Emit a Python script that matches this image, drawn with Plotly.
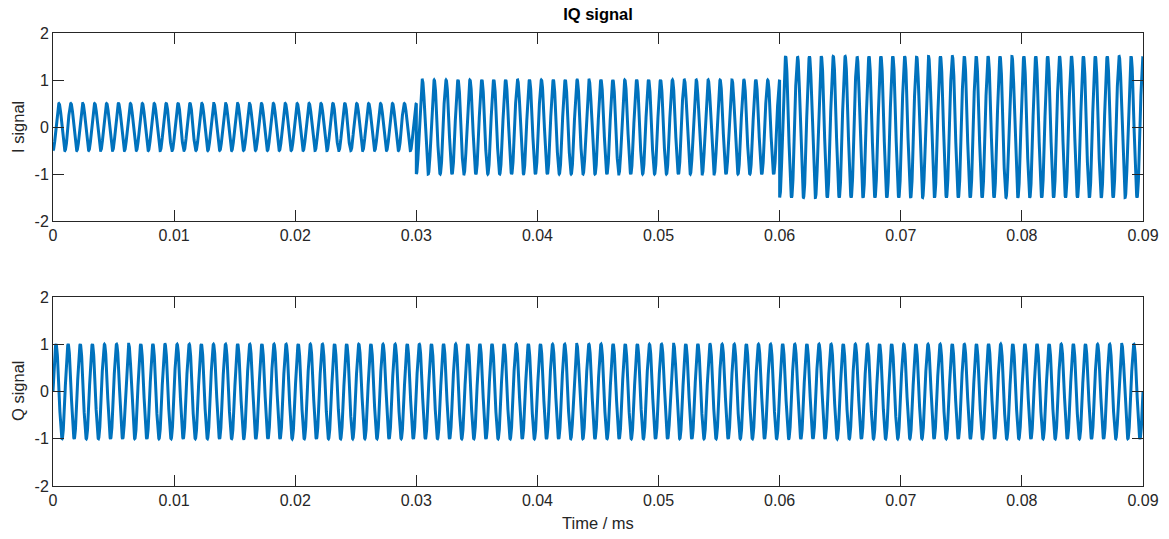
import numpy as np
import plotly.graph_objects as go

# ---- data ----
segment_starts = [0.0, 0.03, 0.06]          # ms
segment_ends = [0.03, 0.06, 0.09]           # ms
i_amplitudes = [0.5, 1.0, 1.5]              # I amplitude per segment
i_cycles_per_segment = [30.5, 30.5, 30.5]   # carrier cycles in each I segment
q_amplitude = 1.0
q_frequency = 1000.0                        # cycles per ms
samples_per_segment = 4001

x_tick_vals = [0, 0.01, 0.02, 0.03, 0.04, 0.05, 0.06, 0.07, 0.08, 0.09]
x_tick_text = ["0", "0.01", "0.02", "0.03", "0.04", "0.05", "0.06", "0.07", "0.08", "0.09"]
y_tick_vals = [-2, -1, 0, 1, 2]
y_tick_text = ["-2", "-1", "0", "1", "2"]

# ---- build waveforms ----
t_i, v_i = [], []
for s, e, a, c in zip(segment_starts, segment_ends, i_amplitudes, i_cycles_per_segment):
    t = np.linspace(s, e, samples_per_segment)
    f = c / (e - s)
    t_i.append(t)
    v_i.append(-a * np.cos(2 * np.pi * f * (t - s)))
t_i = np.concatenate(t_i)
v_i = np.concatenate(v_i)

t_q = np.linspace(segment_starts[0], segment_ends[-1], 3 * samples_per_segment)
v_q = q_amplitude * np.sin(2 * np.pi * q_frequency * t_q)

W, H = 1169, 539
LINE = "#0072BD"
AX = "#262626"
FONT = "Liberation Sans, Arial, Helvetica, sans-serif"

fig = go.Figure()
fig.add_trace(go.Scatter(x=t_i, y=v_i, mode="lines", line=dict(color=LINE, width=3),
                         xaxis="x", yaxis="y", showlegend=False, hoverinfo="skip"))
fig.add_trace(go.Scatter(x=t_q, y=v_q, mode="lines", line=dict(color=LINE, width=3),
                         xaxis="x2", yaxis="y2", showlegend=False, hoverinfo="skip"))

xdom = [53 / W, 1143 / W]
top_dom = [1 - 221 / H, 1 - 33 / H]
bot_dom = [1 - 486 / H, 1 - 297 / H]

def xax(anchor):
    return dict(domain=xdom, anchor=anchor, range=[0, 0.09], tickvals=x_tick_vals,
                ticktext=x_tick_text, ticks="inside", ticklen=11, tickwidth=1,
                tickcolor=AX, showline=True, linecolor=AX, linewidth=1, mirror="ticks",
                showgrid=False, zeroline=False, automargin=False,
                tickfont=dict(size=16, color=AX, family=FONT))

def yax(anchor, dom):
    return dict(domain=dom, anchor=anchor, range=[-2, 2], tickvals=y_tick_vals,
                ticktext=y_tick_text, ticks="inside", ticklen=11, tickwidth=1,
                tickcolor=AX, showline=True, linecolor=AX, linewidth=1, mirror="ticks",
                showgrid=False, zeroline=False, automargin=False,
                tickfont=dict(size=16, color=AX, family=FONT))

fig.update_layout(
    width=W, height=H, autosize=False,
    margin=dict(l=0, r=0, t=0, b=0, pad=0, autoexpand=False),
    paper_bgcolor="white", plot_bgcolor="white",
    font=dict(family=FONT, color=AX),
    xaxis=xax("y"), yaxis=yax("x", top_dom),
    xaxis2=xax("y2"), yaxis2=yax("x2", bot_dom),
    title=dict(text="<b>IQ signal</b>", x=598 / W, xanchor="center", xref="paper",
               y=1 - 14 / H, yanchor="middle", yref="container", automargin=False,
               font=dict(size=16.5, color="black", family=FONT)),
    annotations=[
        dict(text="I signal", xref="paper", yref="paper", x=18 / W, y=1 - 127 / H,
             xanchor="center", yanchor="middle", textangle=-90, showarrow=False,
             font=dict(size=16.5, color=AX, family=FONT)),
        dict(text="Q signal", xref="paper", yref="paper", x=18 / W, y=1 - 391 / H,
             xanchor="center", yanchor="middle", textangle=-90, showarrow=False,
             font=dict(size=16.5, color=AX, family=FONT)),
        dict(text="Time / ms", xref="paper", yref="paper", x=598 / W, y=1 - 523 / H,
             xanchor="center", yanchor="middle", showarrow=False,
             font=dict(size=16.5, color=AX, family=FONT)),
    ],
)

fig.write_html("out.html", config={"responsive": False})
